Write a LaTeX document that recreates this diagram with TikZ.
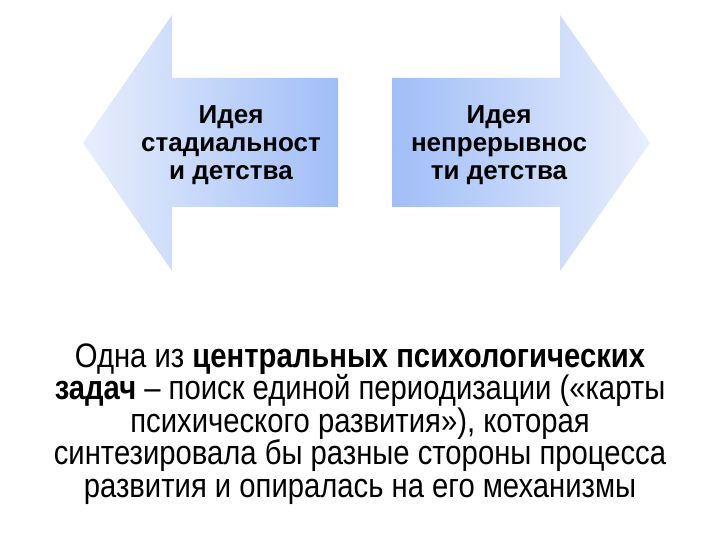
\documentclass[tikz,border=0pt]{standalone}
\usepackage{fontspec}
\usepackage{tikz}
\usepackage{xcolor}
\usetikzlibrary{positioning, shapes}
\setmainfont{Liberation Sans}
\newfontfamily\narrowfont[FakeStretch=0.86]{Liberation Sans}
\definecolor{arrowdark}{RGB}{160,190,247}
\definecolor{arrowlight}{RGB}{232,238,252}

\begin{document}
\begin{tikzpicture}[
            x=1pt, y=-1pt,
            idea/.style={align=center, font=\fontsize{26}{28}\selectfont\bfseries},
            task/.style={align=center, font=\narrowfont\fontsize{34}{32.5}\selectfont},
        ]
            \useasboundingbox (0,0) rectangle (720,540);
            % left arrow
            \shade[left color=arrowlight, right color=arrowdark]
                (83,143) -- (172,15) -- (172,78) -- (338,78) -- (338,207)
                -- (172,207) -- (172,271) -- cycle;
            % right arrow
            \shade[left color=arrowdark, right color=arrowlight]
                (650,143) -- (560,15) -- (560,78) -- (392,78) -- (392,207)
                -- (560,207) -- (560,271) -- cycle;
            \node[idea] (stages) at (231,145) {Идея\\стадиальност\\и детства};
            \node[idea] (continuity) at (499,145) {Идея\\непрерывнос\\ти детства};
            \node[task] (task) at (360,424) {Одна из \textbf{центральных психологических}\\
                \textbf{задач} – поиск единой периодизации («карты\\
                психического развития»), которая\\
                синтезировала бы разные стороны процесса\\
                развития и опиралась на его механизмы};
        \end{tikzpicture}
\end{document}
